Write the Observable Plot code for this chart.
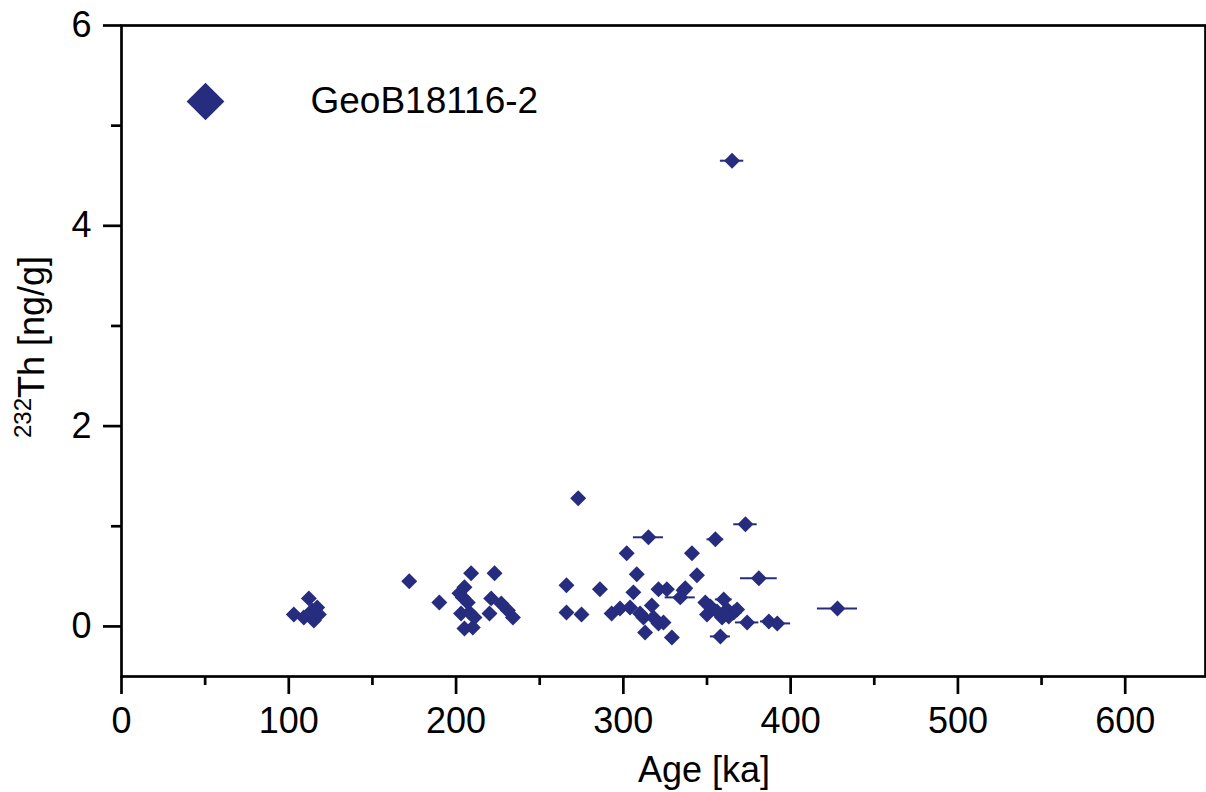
<!DOCTYPE html>
<html>
<head>
<meta charset="utf-8">
<script src="https://cdn.jsdelivr.net/npm/d3@7"></script>
<script src="https://cdn.jsdelivr.net/npm/@observablehq/plot@0.6"></script>
<style>
  html, body { margin: 0; padding: 0; background: #fff; }
  #chart svg { display: block; }
</style>
</head>
<body>
<div id="chart"></div>
<script>
// Age [ka]
const ages = [103,109,112,114,115,117,118,172,190,202,203,204,205,205,207,208,209,210,211,220,221,223,227,231,234,
  266,266,273,275,286,293,298,302,304,306,308,310,312,313,315,317,318,321,321,324,326,329,334,336,337,341,344,
  349,350,352,353,355,356,358,359,360,362,363,365,366,368,373,374,381,387,392,428];
// 232Th [ng/g]
const thorium = [0.12,0.09,0.28,0.16,0.06,0.19,0.12,0.45,0.24,0.33,0.13,0.29,0.39,-0.02,0.24,0.14,0.53,-0.01,0.09,0.13,0.28,0.53,0.23,0.16,0.09,
  0.41,0.14,1.28,0.12,0.37,0.13,0.18,0.73,0.19,0.34,0.52,0.13,0.09,-0.06,0.89,0.21,0.09,0.37,0.03,0.04,0.37,-0.11,0.29,0.36,0.38,0.73,0.51,
  0.24,0.12,0.20,0.18,0.87,0.15,-0.10,0.09,0.27,0.17,0.10,4.65,0.14,0.17,1.02,0.04,0.48,0.05,0.03,0.18];
// age uncertainty [ka]
const ageErr = [0,0,0,0,0,0,0,0,0,0,0,0,0,0,0,0,0,0,0,0,0,0,0,0,0,
  0,0,0,0,0,0,0,0,0,3,0,0,0,0,9,0,0,0,0,0,0,3,9,0,0,0,0,
  3,0,0,0,5,0,6,0,5,6,0,7,5,0,7,7,11,5,8,12];

const xMajor = [0,100,200,300,400,500,600];
const xMinor = [50,150,250,350,450,550];
const yMajor = [0,2,4,6];
const yMinor = [1,3,5];
const seriesName = "GeoB18116-2";
const color = "#262c7e";

const data = ages.map((a, i) => ({age: a, th: thorium[i], err: ageErr[i]}));

const chart = Plot.plot({
  width: 1206,
  height: 792,
  marginLeft: 121,
  marginRight: 1,
  marginTop: 25,
  marginBottom: 116,
  x: {domain: [0, 648]},
  y: {domain: [-0.5, 6]},
  style: {fontFamily: "'Liberation Sans', Arial, sans-serif", fontSize: "36px", color: "#000", background: "#fff", overflow: "visible"},
  marks: [
    Plot.ruleY(data.filter(d => d.err > 0), {y: "th", x1: d => d.age - d.err, x2: d => d.age + d.err, stroke: color, strokeWidth: 2}),
    Plot.dot(data, {x: "age", y: "th", symbol: "diamond2", r: 7.2, fill: color, stroke: null}),
    Plot.frame({stroke: "#000", strokeWidth: 2.7}),
    Plot.axisX(xMajor, {tickSize: 18, tickPadding: 13, strokeWidth: 2.7, label: null, fontSize: 36, stroke: "#000", tickFormat: d3.format("d")}),
    Plot.axisX(xMinor, {tickSize: 9, tickFormat: () => "", strokeWidth: 2.7, label: null, stroke: "#000"}),
    Plot.axisY(yMajor, {tickSize: 18, tickPadding: 12, strokeWidth: 2.7, label: null, fontSize: 36, stroke: "#000", tickFormat: d3.format("d")}),
    Plot.axisY(yMinor, {tickSize: 10, tickFormat: () => "", strokeWidth: 2.7, label: null, stroke: "#000"}),
    // legend
    Plot.dot([seriesName], {frameAnchor: "top-left", dx: 84, dy: 76, symbol: "diamond2", r: 17, fill: color, stroke: null}),
    Plot.text([seriesName], {frameAnchor: "top-left", lineAnchor: "middle", dx: 189, dy: 76, text: d => d, textAnchor: "start", fontSize: 37, fill: "#000"})
  ]
});

document.getElementById("chart").appendChild(chart);

const svg = d3.select(chart);
// thicker tick strokes, like the reference
svg.selectAll('g[aria-label$="tick"]').attr("stroke-width", 2.7).selectAll("path").attr("stroke-width", 2.7);
// x-axis title
svg.append("text")
  .attr("x", 704).attr("y", 782)
  .attr("text-anchor", "middle")
  .attr("font-family", "'Liberation Sans', Arial, sans-serif")
  .attr("font-size", 36)
  .attr("fill", "#000")
  .text("Age [ka]");
// y-axis title with superscript
const yt = svg.append("text")
  .attr("transform", "translate(44,347) rotate(-90)")
  .attr("text-anchor", "middle")
  .attr("font-family", "'Liberation Sans', Arial, sans-serif")
  .attr("font-size", 36)
  .attr("fill", "#000");
yt.append("tspan").attr("font-size", 24).attr("dy", -13).text("232");
yt.append("tspan").attr("dy", 13).text("Th [ng/g]");
</script>
</body>
</html>
